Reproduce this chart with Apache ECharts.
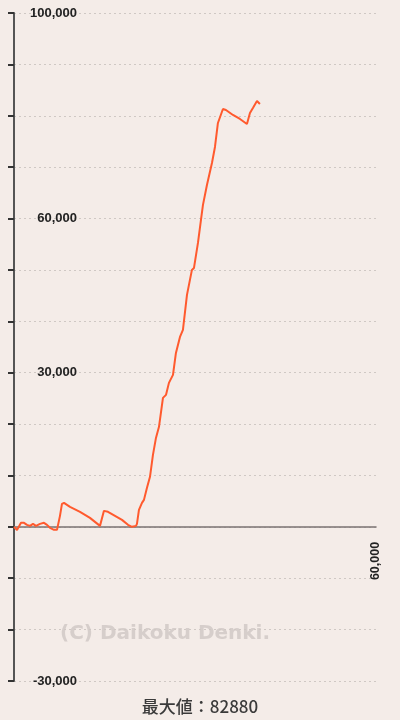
<!DOCTYPE html>
<html>
<head>
<meta charset="utf-8">
<script src="https://cdn.jsdelivr.net/npm/echarts@6/dist/echarts.min.js"></script>
<style>
  * { margin: 0; padding: 0; }
  body { background: #f4ece8; }
  #chart { width: 400px; height: 720px; }
</style>
</head>
<body>
<div id="chart"></div>
<script>
// ゲーム数
const games = [0, 500, 830, 1160, 1660, 2150, 2650, 3150, 3650, 4310, 4970, 5470, 5970, 6630, 7130,
  7620, 7950, 8290, 9280, 10940, 12590, 14250, 14580, 14910, 15580, 16740, 17900, 18890, 19550,
  20220, 20380, 20710, 21210, 21540, 22040, 22540, 23030, 23530, 24030, 24690, 25190, 25680,
  26350, 26840, 27510, 28000, 28670, 29000, 29490, 29830, 30490, 30990, 31320, 31650, 31980,
  32310, 32810, 33310, 33800, 34130, 34630, 35130, 36290, 37450, 38610, 38770, 39110, 39600,
  40270, 40760];
// 差枚数
const diffs = [0, -600, -970, 780, 780, 390, 190, 580, 190, 580, 780, 390, -190, -580, -580,
  2140, 4470, 4670, 3890, 2920, 1750, 190, 0, 3110, 2920, 2140, 1360, 390, 0,
  190, 580, 3310, 4670, 5250, 7590, 9730, 14010, 17310, 19460, 25100, 25680, 28020,
  29570, 33850, 36960, 38330, 45140, 45140, 50000, 50390, 55250, 59730, 62650, 63030, 66540,
  66540, 70820, 73930, 78600, 78790, 81320, 81130, 80160, 79380, 78400, 78400, 80540, 81520,
  82880, 82290];
// 表示するラベル
const yLabels = [100000, 60000, 30000, -30000];
const xLabels = [60000];
const yMin = -30000;
const yMax = 100000;
const maxValue = 82880;

const chart = echarts.init(document.getElementById("chart"));
const fmt = (v) => v.toLocaleString("en-US");

// グラフ領域
const gridTop = 13;
const gridBottom = 39;
const gridHeight = 720 - gridTop - gridBottom;
// x軸を0の位置に置く
const xOffset = -((0 - yMin) / (yMax - yMin)) * gridHeight;

const option = {
  backgroundColor: "#f4ece8",
  animation: false,
  grid: { left: 14, right: 24, top: gridTop, bottom: gridBottom, outerBoundsMode: "none" },
  xAxis: {
    type: "value",
    min: 0,
    max: 60000,
    interval: 60000,
    offset: xOffset,
    axisLine: { onZero: false, lineStyle: { color: "#7a7272", width: 1.5 } },
    axisTick: { show: false },
    splitLine: { show: false },
    axisLabel: {
      rotate: 90,
      fontFamily: "Liberation Sans",
      fontSize: 12.5,
      fontWeight: "bold",
      color: "#222",
      margin: 15,
      formatter: (v) => (xLabels.includes(v) ? fmt(v) : ""),
    },
  },
  yAxis: {
    type: "value",
    min: yMin,
    max: yMax,
    interval: 10000,
    axisLine: { show: true, onZero: false, lineStyle: { color: "#555", width: 2 } },
    axisTick: { show: true, length: 6, lineStyle: { color: "#333", width: 2 } },
    splitLine: { lineStyle: { color: "#cfc8c4", type: [2, 3], width: 1 } },
    axisLabel: {
      inside: true,
      margin: 63,
      align: "right",
      fontFamily: "Liberation Sans",
      fontSize: 13,
      fontWeight: "bold",
      color: "#222",
      formatter: (v) => (yLabels.includes(v) ? fmt(v) : ""),
    },
  },
  graphic: [
    {
      type: "text",
      left: 60,
      top: 624,
      silent: true,
      style: {
        text: "(C) Daikoku Denki.",
        fontFamily: "DejaVu Sans",
        fontWeight: "bold",
        fontSize: 20,
        fill: "#d6cecb",
      },
    },
    {
      type: "text",
      left: "center",
      top: 698,
      style: {
        text: "最大値：" + maxValue,
        fontFamily: "Noto Sans CJK JP",
        fontSize: 17,
        fontWeight: 500,
        fill: "#3a3a3a",
      },
    },
  ],
  series: [
    {
      type: "line",
      data: games.map((g, i) => [g, diffs[i]]),
      showSymbol: false,
      lineStyle: { color: "#ff5a2e", width: 2 },
    },
  ],
};
chart.setOption(option);
</script>
</body>
</html>
